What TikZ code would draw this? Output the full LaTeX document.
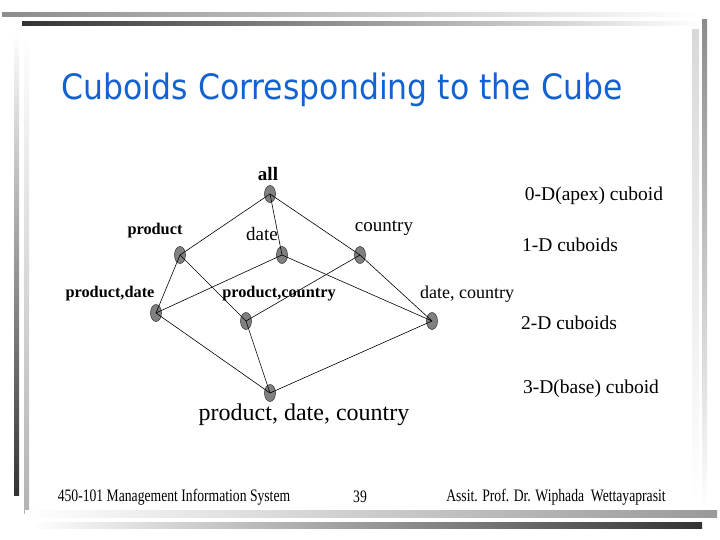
\documentclass[tikz,border=0pt]{standalone}
\usepackage{fontspec}
\usepackage{xcolor}
\usepackage{tikz}
\usetikzlibrary{shapes.geometric}
\setmainfont{Liberation Serif}
\newfontfamily\titlefont[FakeStretch=0.9]{DejaVu Sans}
\newfontfamily\footfont[FakeStretch=0.78]{Liberation Serif}
\definecolor{titleblue}{RGB}{18,98,208}
\definecolor{cubegray}{RGB}{128,128,128}

\begin{document}
\begin{tikzpicture}[x=1pt,y=-1pt,every node/.style={inner sep=0pt,outer sep=0pt},
    cuboid/.style={shape=ellipse,draw=black!75,fill=cubegray,line width=0.6pt,minimum width=11pt,minimum height=17pt},
    lbl/.style={font=\fontsize{19}{21}\selectfont},
    blbl/.style={font=\fontsize{16.3}{18}\selectfont\bfseries},
    lvl/.style={font=\fontsize{19.5}{22}\selectfont},
    foot/.style={font=\fontsize{17.5}{19}\footfont}]
    \useasboundingbox (0,0) rectangle (720,540);
    % frame bars
    \shade[left color=black!45,right color=white] (2,13) rectangle (700,17);
    \shade[left color=black!80,right color=white] (22,22) rectangle (700,26);
    \shade[top color=white,bottom color=black!80] (14,33) rectangle (19,495);
    \shade[top color=white,bottom color=black!30] (24,33) rectangle (29,513);
    \shade[top color=black!45,bottom color=white] (702,20) rectangle (707,510);
    \shade[top color=black!15,bottom color=white] (692,30) rectangle (699,503);
    \shade[left color=white,right color=black!40] (25,510) rectangle (717,517);
    \shade[left color=white,right color=black!80] (30,522) rectangle (702,528);
    % title
    \node[font=\fontsize{35}{38}\titlefont,text=titleblue] (title) at (342,90) {Cuboids Corresponding to the Cube};
    % cuboids
    \node[cuboid] (all) at (270,194) {};
    \node[cuboid] (p) at (180,255) {};
    \node[cuboid] (d) at (282,255) {};
    \node[cuboid] (c) at (360,255) {};
    \node[cuboid] (pd) at (156,313) {};
    \node[cuboid] (pc) at (246,321) {};
    \node[cuboid] (dc) at (432,321) {};
    \node[cuboid] (pdc) at (270,393) {};
    \foreach \a/\b in {all/p,all/d,all/c,p/pd,p/pc,d/pd,d/dc,c/pc,c/dc,pd/pdc,pc/pdc,dc/pdc}
        \draw[line width=0.6pt] (\a.center) -- (\b.center);
    % names
    \node[font=\fontsize{19}{21}\selectfont\bfseries] (allname) at (268,174) {all};
    \node[blbl] (pname) at (155,231) {product};
    \node[lbl] (dname) at (262,234) {date};
    \node[lbl] (cname) at (384,228) {country};
    \node[blbl] (pdname) at (110,294) {product,date};
    \node[blbl] (pcname) at (279,294) {product,country};
    \node[font=\fontsize{18}{20}\selectfont] (dcname) at (467,294) {date, country};
    \node[font=\fontsize{24}{26}\selectfont] (pdcname) at (304,415) {product, date, country};
    % levels
    \node[lvl] (apex) at (594,196) {0-D(apex) cuboid};
    \node[lvl] (one) at (570,245) {1-D cuboids};
    \node[lvl] (two) at (569,323) {2-D cuboids};
    \node[lvl] (base) at (591,389) {3-D(base) cuboid};
    % footer
    \node[foot] (course) at (174,497) {450-101 Management Information System};
    \node[foot] (page) at (360,497) {39};
    \node[foot] (teacher) at (556,497) {Assit. Prof. Dr. Wiphada\ \ Wettayaprasit};
\end{tikzpicture}
\end{document}
